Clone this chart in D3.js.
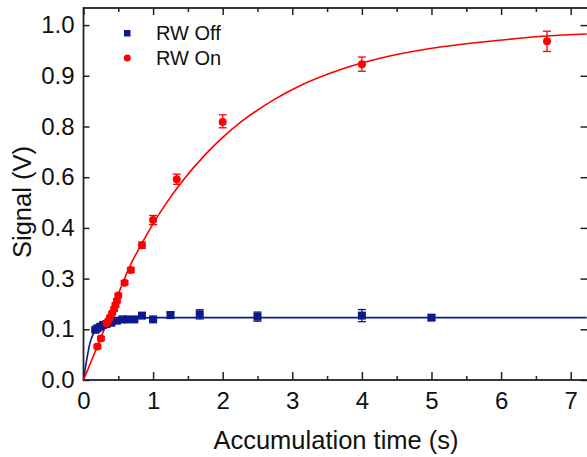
<!DOCTYPE html>
<html>
<head>
<meta charset="utf-8">
<script src="https://cdn.jsdelivr.net/npm/d3@7"></script>
<style>
  body { margin: 0; background: #fff; }
  text { font-family: "Liberation Sans", Arial, sans-serif; fill: #111; }
</style>
</head>
<body>
<div id="chart"></div>
<script>
// tick labels as printed on the chart (y labels are evenly spaced, not evenly valued)
var yTicks = [0.0, 0.1, 0.3, 0.4, 0.6, 0.8, 0.9, 1.0];
var xTicks = [0, 1, 2, 3, 4, 5, 6, 7];
var xMinorTicks = [0.5, 1.5, 2.5, 3.5, 4.5, 5.5, 6.5];

// RW Off (blue squares)
var offTime   = [0.17, 0.20, 0.24, 0.28, 0.33, 0.40, 0.48, 0.56, 0.63, 0.73, 0.84, 1.00, 1.25, 1.67, 2.50, 4.00, 5.00];
var offSignal = [0.099, 0.104, 0.110, 0.117, 0.121, 0.126, 0.134, 0.139, 0.139, 0.139, 0.154, 0.139, 0.156, 0.159, 0.150, 0.154, 0.146];
var offError  = [0.003, 0.004, 0.004, 0.004, 0.004, 0.005, 0.005, 0.005, 0.005, 0.005, 0.008, 0.005, 0.012, 0.018, 0.018, 0.024, 0.010];

// RW On (red circles)
var onTime   = [0.20, 0.25, 0.33, 0.36, 0.38, 0.41, 0.44, 0.46, 0.48, 0.50, 0.59, 0.68, 0.84, 1.00, 1.34, 2.00, 4.00, 6.66];
var onSignal = [0.066, 0.082, 0.124, 0.134, 0.147, 0.163, 0.180, 0.196, 0.213, 0.233, 0.284, 0.317, 0.366, 0.431, 0.592, 0.809, 0.923, 0.968];
var onError  = [0.004, 0.004, 0.008, 0.006, 0.006, 0.006, 0.008, 0.008, 0.008, 0.008, 0.008, 0.005, 0.006, 0.018, 0.020, 0.014, 0.014, 0.020];

// fitted curves
var offFitTime   = [0, 0.022, 0.058, 0.093, 0.129, 0.165, 0.237, 0.333, 0.43, 0.596, 0.797, 1.1, 7.23];
var offFitSignal = [0, 0.020, 0.049, 0.073, 0.087, 0.096, 0.107, 0.120, 0.131, 0.139, 0.145, 0.146, 0.146];
var onFitTime   = [0, 0.204, 0.333, 0.5, 0.668, 0.841, 1.003, 1.171, 1.411, 1.746, 2.004, 2.249, 2.75, 3.11, 3.685, 4.26, 4.98, 5.98, 6.66, 7.23];
var onFitSignal = [0, 0.068, 0.123, 0.239, 0.325, 0.370, 0.418, 0.490, 0.581, 0.688, 0.758, 0.8075, 0.854, 0.8805, 0.912, 0.9347, 0.9539, 0.9702, 0.9785, 0.9824];

var navy = "#0a1a8c", red = "#ff0000";

var margin = {top: 8, left: 83.5},
    width = 505,
    height = 372;

var svg = d3.select("#chart")
  .append("svg")
    .attr("width", 587)
    .attr("height", 457);

var graph = svg.append("g")
    .attr("transform", "translate(" + margin.left + "," + margin.top + ")");

var x = d3.scaleLinear()
  .domain([0, 7.256])
  .range([0, width]);

// one step per printed label
var yStep = 50.7;
var y = d3.scaleLinear()
  .domain(yTicks)
  .range(yTicks.map(function (d, i) { return height - i * yStep; }));

function zip(t, v, e) {
  return t.map(function (d, i) { return {t: d, v: v[i], e: e ? e[i] : 0}; });
}
var offData = zip(offTime, offSignal, offError);
var onData = zip(onTime, onSignal, onError);

// axes
function styleAxis(g) {
  g.select(".domain").remove();
  g.selectAll(".tick line").attr("stroke", "#222").attr("stroke-width", 1.5);
  g.selectAll("text").attr("font-size", "24px").attr("fill", "#111");
}

graph.append("g")
  .attr("transform", "translate(0," + height + ")")
  .call(d3.axisBottom(x).tickValues(xTicks).tickSize(-8).tickPadding(12).tickFormat(d3.format("d")))
  .call(styleAxis);
graph.append("g")
  .attr("transform", "translate(0," + height + ")")
  .call(d3.axisBottom(x).tickValues(xMinorTicks).tickSize(-4).tickFormat(""))
  .call(styleAxis);
graph.append("g")
  .call(d3.axisTop(x).tickValues(xTicks).tickSize(-7).tickFormat(""))
  .call(styleAxis);
graph.append("g")
  .call(d3.axisTop(x).tickValues(xMinorTicks).tickSize(-4).tickFormat(""))
  .call(styleAxis);
graph.append("g")
  .call(d3.axisLeft(y).tickValues(yTicks).tickSize(-6).tickPadding(9).tickFormat(d3.format(".1f")))
  .call(styleAxis);
graph.append("g")
  .attr("transform", "translate(" + width + ",0)")
  .call(d3.axisRight(y).tickValues(yTicks).tickSize(-8).tickFormat(""))
  .call(styleAxis);

// frame
graph.append("rect")
  .attr("width", width)
  .attr("height", height)
  .attr("fill", "none")
  .attr("stroke", "#222")
  .attr("stroke-width", 1.8);

// fit lines
var fitLine = d3.line()
  .x(function (d) { return x(d.t); })
  .y(function (d) { return y(d.v); })
  .curve(d3.curveMonotoneX);

graph.append("path")
  .datum(zip(offFitTime, offFitSignal))
  .attr("fill", "none")
  .attr("stroke", navy)
  .attr("stroke-width", 1.6)
  .attr("d", fitLine);

graph.append("path")
  .datum(zip(onFitTime, onFitSignal))
  .attr("fill", "none")
  .attr("stroke", red)
  .attr("stroke-width", 1.6)
  .attr("d", fitLine);

// error bars + markers
function errorBars(data, color) {
  var g = graph.append("g").attr("stroke", color).attr("stroke-width", 1.3);
  data.forEach(function (d) {
    var y0 = y(d.v - d.e), y1 = y(d.v + d.e), cx = x(d.t);
    g.append("line").attr("x1", cx).attr("x2", cx).attr("y1", y0).attr("y2", y1);
    g.append("line").attr("x1", cx - 4).attr("x2", cx + 4).attr("y1", y0).attr("y2", y0);
    g.append("line").attr("x1", cx - 4).attr("x2", cx + 4).attr("y1", y1).attr("y2", y1);
  });
}
errorBars(offData, navy);
errorBars(onData, red);

graph.append("g").selectAll("rect")
  .data(offData)
  .enter().append("rect")
    .attr("x", function (d) { return x(d.t) - 4; })
    .attr("y", function (d) { return y(d.v) - 4; })
    .attr("width", 8)
    .attr("height", 8)
    .attr("fill", navy);

graph.append("g").selectAll("circle")
  .data(onData)
  .enter().append("circle")
    .attr("cx", function (d) { return x(d.t); })
    .attr("cy", function (d) { return y(d.v); })
    .attr("r", 4)
    .attr("fill", red);

// legend
svg.append("rect").attr("x", 124).attr("y", 30).attr("width", 6.5).attr("height", 6.5).attr("fill", navy);
svg.append("circle").attr("cx", 127.3).attr("cy", 58).attr("r", 3.5).attr("fill", red);
svg.append("text").attr("x", 156).attr("y", 40).attr("font-size", "20px").text("RW Off");
svg.append("text").attr("x", 156).attr("y", 65).attr("font-size", "20px").text("RW On");

// axis titles
svg.append("text")
  .attr("x", 336)
  .attr("y", 449)
  .attr("text-anchor", "middle")
  .attr("font-size", "25.5px")
  .text("Accumulation time (s)");

svg.append("text")
  .attr("transform", "translate(31,202) rotate(-90)")
  .attr("text-anchor", "middle")
  .attr("font-size", "25.5px")
  .text("Signal (V)");
</script>
</body>
</html>
